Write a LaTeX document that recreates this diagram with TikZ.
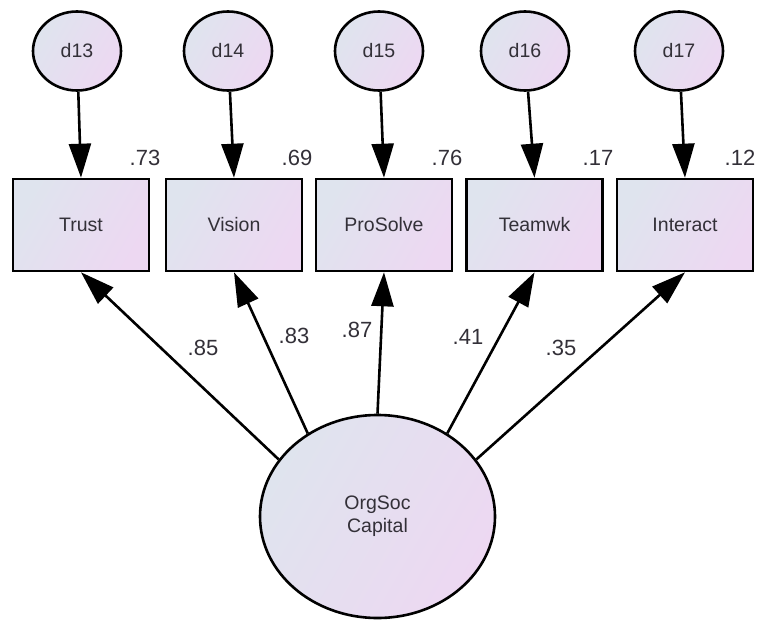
\documentclass[tikz,border=0pt]{standalone}
\usepackage{fontspec}
\setmainfont{Liberation Sans}
\usetikzlibrary{arrows.meta,shapes.geometric}
\definecolor{cL}{HTML}{DFE4EE}
\definecolor{cR}{HTML}{EDD8F2}
\definecolor{txt}{HTML}{333038}
\tikzset{
  fillgrad/.style={left color=cL, right color=cR, shading angle=60},
  errnode/.style={ellipse, draw=black, line width=2.6pt, fillgrad, minimum width=88pt, minimum height=79pt, inner sep=0pt, text=txt, font=\fontsize{19.5}{22}\selectfont},
  obsbox/.style={rectangle, draw=black, line width=2.6pt, fillgrad, minimum width=136pt, minimum height=92pt, inner sep=0pt, text=txt, font=\fontsize{19.5}{22}\selectfont},
  latnode/.style={ellipse, draw=black, line width=2.6pt, fillgrad, minimum width=235pt, minimum height=203pt, inner sep=0pt, text=txt, align=center, font=\fontsize{19.5}{23}\selectfont},
  conn/.style={line width=2.6pt, -{Triangle[length=34pt,width=22pt]}},
  numlab/.style={text=txt, font=\fontsize{22}{24}\selectfont, inner sep=0pt}
}
\begin{document}
\begin{tikzpicture}[x=1pt,y=-1pt]
\useasboundingbox (0,0) rectangle (770,623);
% observed boxes
\node[obsbox] (trust) at (81,225) {Trust};
\node[obsbox] (vision) at (234,225) {Vision};
\node[obsbox] (prosolve) at (384,225) {ProSolve};
\node[obsbox] (teamwk) at (534.5,225) {Teamwk};
\node[obsbox] (interact) at (685,225) {Interact};
% error terms
\node[errnode] (d13) at (77,51) {d13};
\node[errnode] (d14) at (228,51) {d14};
\node[errnode] (d15) at (379,51) {d15};
\node[errnode] (d16) at (525,51) {d16};
\node[errnode] (d17) at (679,51) {d17};
% latent
\node[latnode] (org) at (377.5,516.5) {OrgSoc\\Capital};
% error arrows
\draw[conn] (d13) -- (trust.north);
\draw[conn] (d14) -- (vision.north);
\draw[conn] (d15) -- (prosolve.north);
\draw[conn] (d16) -- (teamwk.north);
\draw[conn] (d17) -- (interact.north);
% loadings
\draw[conn] (org.150) -- (trust.south);
\draw[conn] (org.130) -- (vision.south);
\draw[conn] (org.90) -- (prosolve.south);
\draw[conn] (org.50) -- (teamwk.south);
\draw[conn] (org.30) -- (interact.south);
% R squared labels
\node[numlab] (r1) at (145,158) {.73};
\node[numlab] (r2) at (297,158) {.69};
\node[numlab] (r3) at (447,158) {.76};
\node[numlab] (r4) at (598,158) {.17};
\node[numlab] (r5) at (740,158) {.12};
% loading labels
\node[numlab] (l1) at (203,348) {.85};
\node[numlab] (l2) at (294,336) {.83};
\node[numlab] (l3) at (357,330) {.87};
\node[numlab] (l4) at (468,337) {.41};
\node[numlab] (l5) at (561,348) {.35};
\end{tikzpicture}
\end{document}
